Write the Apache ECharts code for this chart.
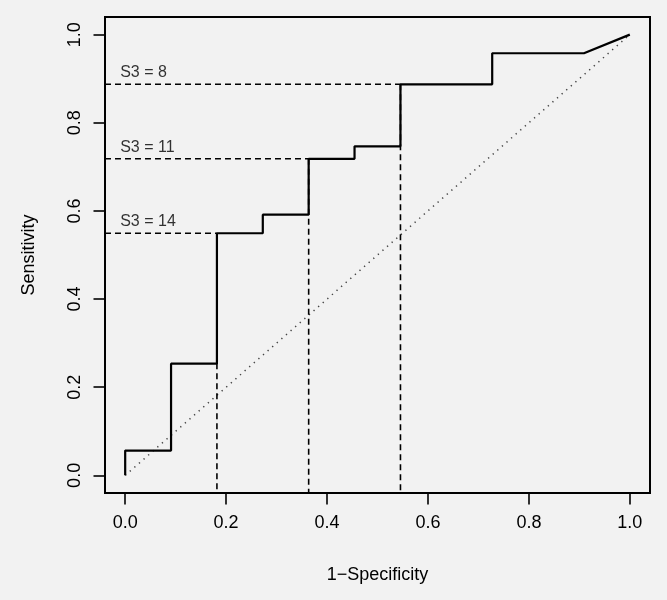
<!DOCTYPE html>
<html>
<head>
<meta charset="utf-8">
<script src="https://cdn.jsdelivr.net/npm/echarts@6/dist/echarts.min.js"></script>
<style>
html,body{margin:0;padding:0;background:#f2f2f2;}
#chart{width:667px;height:600px;}
</style>
</head>
<body>
<div id="chart"></div>
<script>
// ROC step curve (1-Specificity, Sensitivity)
const fpr = [0, 0, 0.0909, 0.0909, 0.1818, 0.1818, 0.2727, 0.2727, 0.3636, 0.3636, 0.4545, 0.4545, 0.5455, 0.5455, 0.7273, 0.7273, 0.9091, 1.0];
const tpr = [0, 0.0563, 0.0563, 0.2535, 0.2535, 0.5493, 0.5493, 0.5915, 0.5915, 0.7183, 0.7183, 0.7465, 0.7465, 0.8873, 0.8873, 0.9577, 0.9577, 1.0];
// Marked cut-offs
const cutLabels = ['S3 = 8', 'S3 = 11', 'S3 = 14'];
const cutFpr = [0.5455, 0.3636, 0.1818];
const cutTpr = [0.8873, 0.7183, 0.5493];
// Reference diagonal
const diagX = [0, 1];
const diagY = [0, 1];
// Tick values
const tickValues = [0, 0.2, 0.4, 0.6, 0.8, 1.0];

const AX_MIN = -0.04, AX_MAX = 1.04;
const FONT = "'Liberation Sans', Arial, Helvetica, sans-serif";

const series = [];
series.push({
  type: 'line', data: diagX.map((x, i) => [x, diagY[i]]), symbol: 'none', silent: true,
  lineStyle: { color: '#444', width: 1.5, type: [1.3, 4.8] }, z: 1
});
cutFpr.forEach((cx, i) => {
  series.push({
    type: 'line', symbol: 'none', silent: true,
    data: [[AX_MIN, cutTpr[i]], [cx, cutTpr[i]]],
    lineStyle: { color: '#000', width: 1.6, type: [6, 4] }, z: 2
  });
  series.push({
    type: 'line', symbol: 'none', silent: true,
    data: [[cx, cutTpr[i]], [cx, AX_MIN]],
    lineStyle: { color: '#000', width: 1.6, type: [6, 4] }, z: 2
  });
});
series.push({
  type: 'line', data: fpr.map((x, i) => [x, tpr[i]]), symbol: 'none', silent: true,
  lineStyle: { color: '#000', width: 2.2 }, z: 3
});
series.push({
  type: 'scatter', symbolSize: 0, silent: true, z: 4,
  data: cutTpr.map((y, i) => ({ value: [0, y], name: cutLabels[i] })),
  label: {
    show: true, position: 'top', distance: 3.5, align: 'left', offset: [-5, 0],
    formatter: p => p.name, color: '#000', fontSize: 16, fontFamily: FONT
  }
});

const axisCommon = {
  type: 'value', min: AX_MIN, max: AX_MAX,
  splitLine: { show: false },
  axisLine: { show: true, onZero: false, lineStyle: { color: '#000', width: 2 } },
  axisTick: { show: true, inside: false, customValues: tickValues, length: 11.5, lineStyle: { color: '#000', width: 1.6 } },
  axisLabel: { customValues: tickValues, formatter: v => v.toFixed(1), color: '#000', fontSize: 18, fontFamily: FONT, margin: 21 },
  nameLocation: 'middle',
  nameTextStyle: { color: '#000', fontSize: 18, fontFamily: FONT }
};

const chart = echarts.init(document.getElementById('chart'), null, { renderer: 'canvas' });
chart.setOption({
  backgroundColor: '#f2f2f2',
  animation: false,
  grid: { left: 105, right: 17, top: 17, bottom: 107, show: true, borderColor: '#000', borderWidth: 2, backgroundColor: 'transparent' },
  xAxis: Object.assign({}, axisCommon, { name: '1\u2212Specificity', nameGap: 73 }),
  yAxis: Object.assign({}, axisCommon, { name: 'Sensitivity', nameGap: 67, axisLabel: Object.assign({}, axisCommon.axisLabel, { rotate: 90 }) }),
  series: series
});
</script>
</body>
</html>
